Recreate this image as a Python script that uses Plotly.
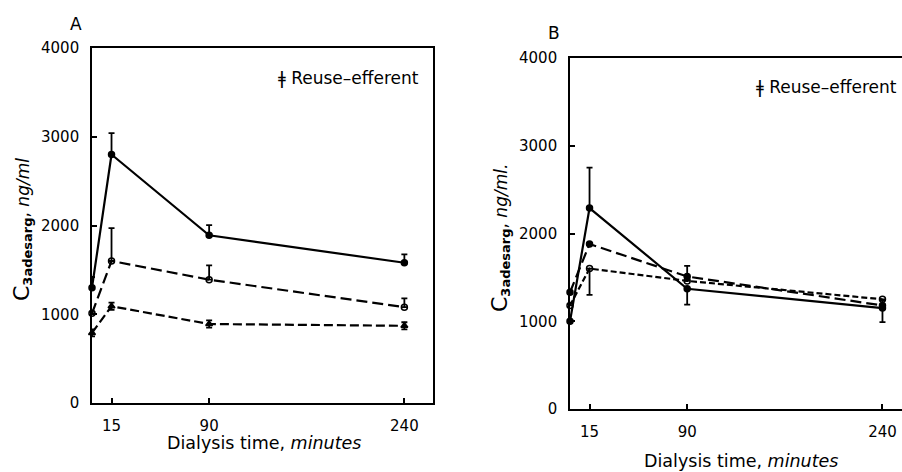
import plotly.graph_objects as go

W, H = 902, 472

# ---------------- data ----------------
minutes = [0, 15, 90, 240]
x_ticks = [15, 90, 240]
y_ticks = [0, 1000, 2000, 3000, 4000]

# Panel A
a_solid = [1300, 2800, 1890, 1580]
a_solid_err = [120, 240, 115, 95]
a_long = [1010, 1600, 1390, 1080]
a_long_err = [0, 370, 160, 100]
a_short = [790, 1090, 890, 870]
a_short_err = [40, 40, 40, 40]

# Panel B
b_solid = [1000, 2290, 1370, 1150]
b_solid_up = [0, 460, 0, 90]
b_solid_dn = [0, 0, 180, 160]
b_long = [1330, 1880, 1510, 1180]
b_short = [1180, 1600, 1460, 1250]
b_short_up = [0, 0, 170, 0]
b_short_dn = [0, 300, 0, 0]

legend_text = "ǂ Reuse–efferent"
x_title = "Dialysis time, <i>minutes</i>"
y_title_a = ("<span style='font-size:22px'>C</span><sub><span style='font-size:13px'>"
             "<b>3adesarg</b></span></sub><span style='font-size:17px'>, <i>ng/ml</i></span>")
y_title_b = ("<span style='font-size:22px'>C</span><sub><span style='font-size:13px'>"
             "<b>3adesarg</b></span></sub><span style='font-size:17px'>, <i>ng/ml.</i></span>")

FONT = "DejaVu Sans"


def px_x(p):
    return p / W


def px_y(p):
    return (H - p) / H


fig = go.Figure()


def add(x, y, xa, ya, dash, symbol, up=None, dn=None, width=2.2):
    err = None
    if up is not None:
        err = dict(type="data", symmetric=False, array=up,
                   arrayminus=dn if dn is not None else [0] * len(up),
                   color="black", thickness=1.8, width=3)
    fig.add_trace(go.Scatter(
        x=x, y=y, xaxis=xa, yaxis=ya, mode="lines+markers",
        line=dict(color="black", width=width, dash=dash),
        marker=dict(symbol=symbol, size=6, color="black",
                    line=dict(color="black", width=1.5)),
        error_y=err, showlegend=False, cliponaxis=False))


# Panel A
add(minutes, a_solid, "x", "y", "solid", "circle", a_solid_err)
add(minutes, a_long, "x", "y", "11px,5px", "circle-open", a_long_err)
add(minutes, a_short, "x", "y", "9px,4px", "triangle-up", a_short_err, a_short_err)

# Panel B
add(minutes, b_solid, "x2", "y2", "solid", "circle", b_solid_up, b_solid_dn)
add(minutes, b_long, "x2", "y2", "11px,5px", "circle", None)
add(minutes, b_short, "x2", "y2", "6px,3px", "circle-open", b_short_up, b_short_dn)

axis_common = dict(
    showgrid=False, zeroline=False, showline=True, linecolor="black",
    linewidth=1.6, ticks="inside", ticklen=5, tickcolor="black",
    tickwidth=1.5, tickfont=dict(family=FONT, size=15, color="black"),
    automargin=False,
)

fig.update_layout(
    template="none",
    width=W, height=H, margin=dict(l=0, r=0, t=0, b=0, autoexpand=False),
    paper_bgcolor="white", plot_bgcolor="white",
    xaxis=dict(axis_common, domain=[px_x(92), px_x(433)], range=[0, 262],
               tickvals=x_ticks, mirror=True, anchor="y",
               ticklabelstandoff=8),
    yaxis=dict(axis_common, domain=[px_y(403), px_y(48)], range=[0, 4000],
               tickvals=y_ticks, mirror=True, anchor="x",
               ticklabelstandoff=8),
    xaxis2=dict(axis_common, domain=[px_x(570), 1.0], range=[0, 255],
                tickvals=x_ticks, mirror=True, anchor="y2",
                ticklabelstandoff=8),
    yaxis2=dict(axis_common, domain=[px_y(409), px_y(58)], range=[0, 4000],
                tickvals=y_ticks, mirror=False, anchor="x2",
                ticklabelstandoff=8),
)

ann = []
tf = dict(family=FONT, size=15, color="black")
ann.append(dict(text="A", x=px_x(76), y=px_y(24), font=dict(tf, size=17)))
ann.append(dict(text="B", x=px_x(554), y=px_y(33), font=dict(tf, size=17)))
ann.append(dict(text=legend_text, x=px_x(348), y=px_y(78), font=dict(tf, size=17)))
ann.append(dict(text=legend_text, x=px_x(826), y=px_y(87), font=dict(tf, size=17)))
ann.append(dict(text=x_title, x=px_x(264), y=px_y(443), font=dict(tf, size=17.5)))
ann.append(dict(text=x_title, x=px_x(741), y=px_y(461), font=dict(tf, size=17.5)))
ann.append(dict(text=y_title_a, x=px_x(22), y=px_y(230), font=tf, textangle=-90))
ann.append(dict(text=y_title_b, x=px_x(500), y=px_y(238), font=tf, textangle=-90))

for a in ann:
    a.update(xref="paper", yref="paper", showarrow=False,
             xanchor="center", yanchor="middle")
fig.update_layout(annotations=ann)

fig.write_html("out.html")
